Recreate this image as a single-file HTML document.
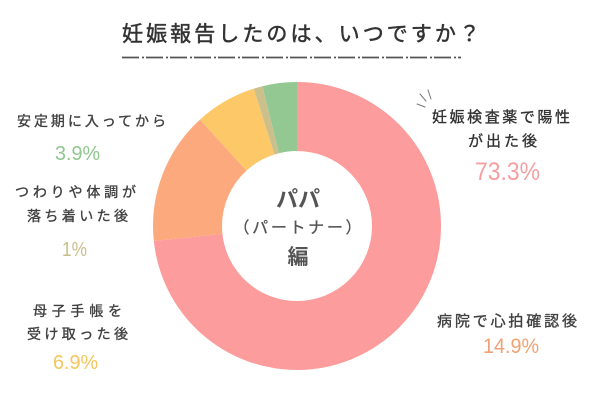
<!DOCTYPE html>
<html>
<head>
<meta charset="utf-8">
<style>
html,body{margin:0;padding:0;background:#fff;}
body{width:600px;height:400px;overflow:hidden;}
svg{display:block;}
text{font-family:"Liberation Sans","Noto Sans CJK JP",sans-serif;}
.jp{font-family:"Noto Sans CJK JP","Liberation Sans",sans-serif;fill:#404040;stroke:#404040;stroke-width:0.35px;}
.num{font-family:"Liberation Sans",sans-serif;}
</style>
</head>
<body>
<svg width="600" height="400" viewBox="0 0 600 400" xmlns="http://www.w3.org/2000/svg">
  <rect width="600" height="400" fill="#fff"/>
  <!-- title -->
  <text class="jp" x="122" y="41" font-size="21" textLength="358" lengthAdjust="spacing" style="fill:#333;stroke:#333;stroke-width:0.5px">妊娠報告したのは、いつですか？</text>
  <line x1="122" y1="57.5" x2="461" y2="57.5" stroke="#555" stroke-width="1.8" stroke-dasharray="17 3 2 2"/>

  <!-- donut -->
  <g transform="rotate(-90 297 226)" fill="none" stroke-width="69">
    <circle cx="297" cy="226" r="109.5" stroke="#fc9c9c" stroke-dasharray="504.31 688.01" stroke-dashoffset="0"/>
    <circle cx="297" cy="226" r="109.5" stroke="#fca97d" stroke-dasharray="102.51 688.01" stroke-dashoffset="-504.31"/>
    <circle cx="297" cy="226" r="109.5" stroke="#fdc867" stroke-dasharray="47.47 688.01" stroke-dashoffset="-606.82"/>
    <circle cx="297" cy="226" r="109.5" stroke="#cbc08c" stroke-dasharray="6.88 688.01" stroke-dashoffset="-654.29"/>
    <circle cx="297" cy="226" r="109.5" stroke="#94c893" stroke-dasharray="26.84 688.01" stroke-dashoffset="-661.17"/>
  </g>

  <!-- center text -->
  <text class="jp" x="298" y="207" font-size="22" font-weight="bold" text-anchor="middle" style="fill:#555;stroke:none">パパ</text>
  <text class="jp" x="297.5" y="233" font-size="16" text-anchor="middle" textLength="128" lengthAdjust="spacing" style="fill:#555;stroke:#555;stroke-width:0.3px">（パートナー）</text>
  <text class="jp" x="298" y="264" font-size="21" font-weight="bold" text-anchor="middle" style="fill:#555;stroke:none">編</text>

  <!-- left labels -->
  <text class="jp" x="17" y="126" font-size="14" textLength="149" lengthAdjust="spacing">安定期に入ってから</text>
  <text class="num" x="55" y="160" font-size="20" textLength="45" lengthAdjust="spacingAndGlyphs" fill="#8fc78e">3.9%</text>

  <text class="jp" x="15" y="197" font-size="14" textLength="121" lengthAdjust="spacing">つわりや体調が</text>
  <text class="jp" x="27" y="221" font-size="14" textLength="101" lengthAdjust="spacing">落ち着いた後</text>
  <text class="num" x="62" y="256" font-size="20" textLength="25" lengthAdjust="spacingAndGlyphs" fill="#c8bf8a">1%</text>

  <text class="jp" x="33" y="316" font-size="14" textLength="89" lengthAdjust="spacing">母子手帳を</text>
  <text class="jp" x="27" y="339" font-size="14" textLength="101" lengthAdjust="spacing">受け取った後</text>
  <text class="num" x="53" y="369" font-size="20" textLength="45" lengthAdjust="spacingAndGlyphs" fill="#f6c55c">6.9%</text>

  <!-- right labels -->
  <g stroke="#777" stroke-width="1" stroke-linecap="round">
    <line x1="417" y1="104" x2="425" y2="107"/>
    <line x1="420" y1="94" x2="426" y2="101"/>
    <line x1="428" y1="90" x2="431" y2="99"/>
  </g>
  <text class="jp" x="432" y="122" font-size="15" textLength="138" lengthAdjust="spacing" style="fill:#333;stroke:#333">妊娠検査薬で陽性</text>
  <text class="jp" x="468" y="146" font-size="15" textLength="69" lengthAdjust="spacing" style="fill:#333;stroke:#333">が出た後</text>
  <text class="num" x="475" y="180" font-size="25" textLength="65" lengthAdjust="spacingAndGlyphs" fill="#f4a0a3">73.3%</text>

  <text class="jp" x="437" y="326" font-size="15" textLength="140" lengthAdjust="spacing">病院で心拍確認後</text>
  <text class="num" x="483" y="353" font-size="21" textLength="56" lengthAdjust="spacingAndGlyphs" fill="#f0a274">14.9%</text>
</svg>
</body>
</html>
